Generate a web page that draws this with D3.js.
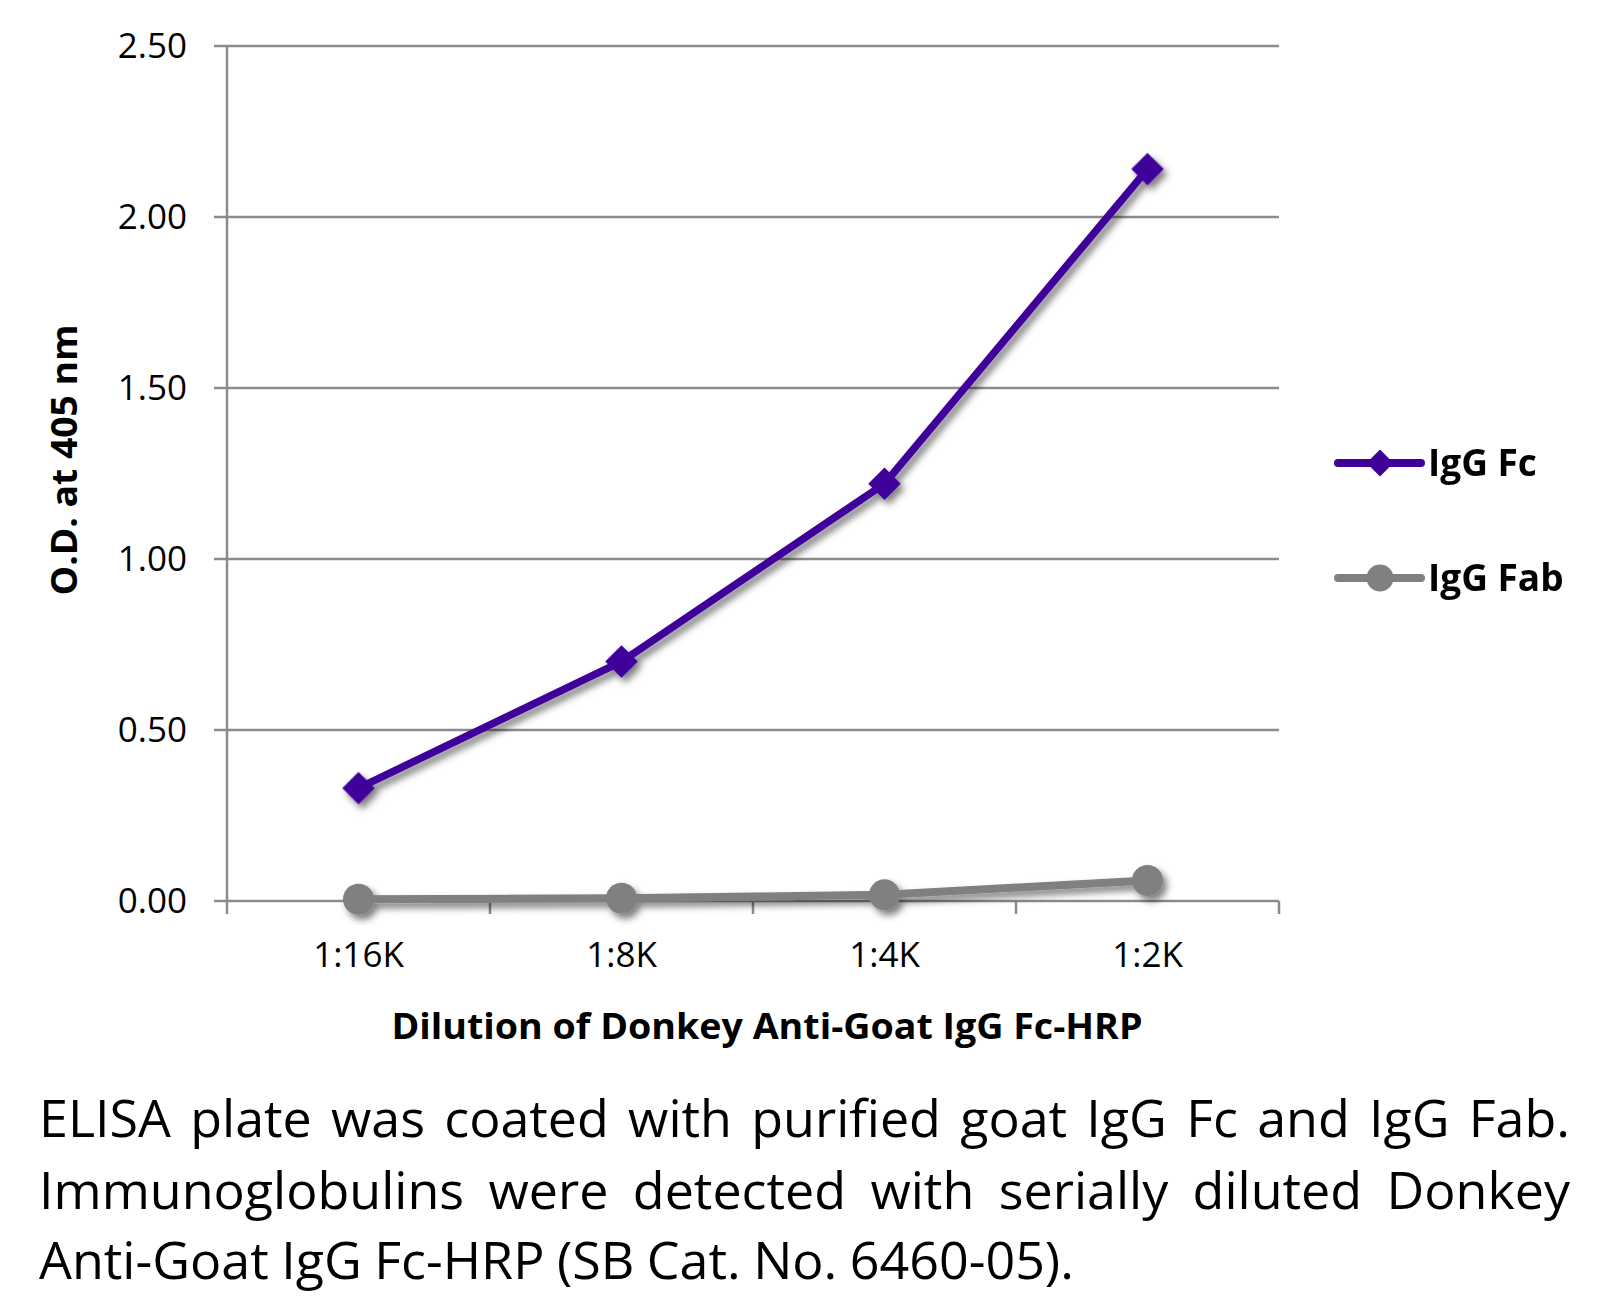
<!DOCTYPE html>
<html><head><meta charset="utf-8">
<script src="https://cdn.jsdelivr.net/npm/d3@7"></script>
<style>
html,body{margin:0;padding:0;background:#fff;}
svg{display:block;}
</style></head>
<body>
<svg id="chart" width="1617" height="1306"></svg>
<script>
const categories = ["1:16K", "1:8K", "1:4K", "1:2K"];
const iggFc = [0.33, 0.70, 1.22, 2.14];
const iggFab = [0.005, 0.008, 0.018, 0.06];
const seriesNames = ["IgG Fc", "IgG Fab"];
const yTicks = [0, 0.5, 1.0, 1.5, 2.0, 2.5];
const xTitle = "Dilution of Donkey Anti-Goat IgG Fc-HRP";
const yTitle = "O.D. at 405 nm";
const captionLines = [
  "ELISA plate was coated with purified goat IgG Fc and IgG Fab.",
  "Immunoglobulins were detected with serially diluted Donkey",
  "Anti-Goat IgG Fc-HRP (SB Cat. No. 6460-05)."
];

const FONT = "'Open Sans', sans-serif";
const svg = d3.select("#chart");
const L = 227, R = 1279, T = 46, B = 901;
const x = d3.scaleBand().domain(categories).range([L, R]);
const y = d3.scaleLinear().domain([0, 2.5]).range([B, T]);
const gridColor = "#8c8c8c";

const defs = svg.append("defs");
const f = defs.append("filter").attr("id", "shadow").attr("x", "-20%").attr("y", "-20%").attr("width", "140%").attr("height", "140%");
f.append("feDropShadow").attr("dx", 4).attr("dy", 5).attr("stdDeviation", 3.5)
  .attr("flood-color", "#000").attr("flood-opacity", 0.5);

// gridlines
svg.append("g").selectAll("line").data(yTicks).join("line")
  .attr("x1", L - 13).attr("x2", R).attr("y1", d => y(d)).attr("y2", d => y(d))
  .attr("stroke", gridColor).attr("stroke-width", 2.5);

// y axis line
svg.append("line").attr("x1", L).attr("x2", L).attr("y1", T).attr("y2", B)
  .attr("stroke", gridColor).attr("stroke-width", 2.5);

// x axis ticks
const tickPos = [L].concat(categories.map(c => x(c) + x.bandwidth()));
svg.append("g").selectAll("line").data(tickPos).join("line")
  .attr("x1", d => d).attr("x2", d => d).attr("y1", B).attr("y2", B + 13)
  .attr("stroke", gridColor).attr("stroke-width", 2.5);

// y labels
svg.append("g").selectAll("text").data(yTicks).join("text")
  .attr("x", 187).attr("y", d => y(d) + 12).attr("text-anchor", "end")
  .attr("font-family", FONT).attr("font-size", 35).attr("fill", "#000")
  .text(d => d3.format(".2f")(d));

// x labels
svg.append("g").selectAll("text").data(categories).join("text")
  .attr("x", d => x(d) + x.bandwidth() / 2).attr("y", 967).attr("text-anchor", "middle")
  .attr("font-family", FONT).attr("font-size", 35).attr("fill", "#000")
  .text(d => d);

// axis titles
svg.append("text").attr("x", 767).attr("y", 1039).attr("text-anchor", "middle")
  .attr("font-family", FONT).attr("font-weight", "bold").attr("font-size", 36)
  .attr("textLength", 751).attr("lengthAdjust", "spacingAndGlyphs")
  .text(xTitle);
svg.append("text").attr("transform", "translate(77,460) rotate(-90)").attr("text-anchor", "middle")
  .attr("font-family", FONT).attr("font-weight", "bold").attr("font-size", 36)
  .attr("textLength", 271).attr("lengthAdjust", "spacingAndGlyphs")
  .text(yTitle);

const cx = (d, i) => x(categories[i]) + x.bandwidth() / 2;
const line = d3.line().x((d, i) => cx(d, i)).y(d => y(d));

// Fab series
const gFab = svg.append("g").attr("filter", "url(#shadow)");
gFab.append("path").datum(iggFab).attr("d", line).attr("fill", "none")
  .attr("stroke", "#808080").attr("stroke-width", 8).attr("stroke-linejoin", "round");
gFab.selectAll("circle").data(iggFab).join("circle")
  .attr("cx", cx).attr("cy", d => y(d)).attr("r", 15.5).attr("fill", "#808080");

// Fc series
const purple = "#40009a";
const gFc = svg.append("g").attr("filter", "url(#shadow)");
gFc.append("path").datum(iggFc).attr("d", line).attr("fill", "none")
  .attr("stroke", purple).attr("stroke-width", 7.5).attr("stroke-linejoin", "round");
const diamond = d3.symbol().type(d3.symbolSquare).size(23 * 23);
gFc.selectAll("path.m").data(iggFc).join("path").attr("class", "m")
  .attr("d", diamond).attr("transform", (d, i) => `translate(${cx(d, i)},${y(d)}) rotate(45)`)
  .attr("fill", purple);

// legend
const legend = [
  { name: seriesNames[0], color: purple, shape: "diamond", y: 463 },
  { name: seriesNames[1], color: "#808080", shape: "circle", y: 578 }
];
const lg = svg.append("g");
legend.forEach(s => {
  lg.append("line").attr("x1", 1338).attr("x2", 1421).attr("y1", s.y).attr("y2", s.y)
    .attr("stroke", s.color).attr("stroke-width", 8).attr("stroke-linecap", "round");
  if (s.shape === "diamond") {
    lg.append("path").attr("d", d3.symbol().type(d3.symbolSquare).size(19 * 19)())
      .attr("transform", `translate(1380,${s.y}) rotate(45)`).attr("fill", s.color);
  } else {
    lg.append("circle").attr("cx", 1380).attr("cy", s.y).attr("r", 13.5).attr("fill", s.color);
  }
  lg.append("text").attr("x", 1428).attr("y", s.y + 13).attr("font-family", FONT)
    .attr("font-weight", "bold").attr("font-size", 37).text(s.name);
});

// caption (justified lines)
const capX0 = 39, capX1 = 1570, capSize = 52;
const capBaselines = [1137, 1209, 1279];
captionLines.forEach((ln, li) => {
  const words = ln.split(" ");
  const g = svg.append("g");
  const texts = words.map(w => g.append("text").attr("font-family", FONT)
    .attr("font-size", capSize).attr("y", capBaselines[li]).text(w));
  const widths = texts.map(t => t.node().getComputedTextLength());
  const total = d3.sum(widths);
  const justify = li < captionLines.length - 1;
  const spaceW = justify ? (capX1 - capX0 - total) / (words.length - 1) : capSize * 0.24;
  let cxp = capX0;
  texts.forEach((t, i) => { t.attr("x", cxp); cxp += widths[i] + spaceW; });
});
</script>
</body></html>
